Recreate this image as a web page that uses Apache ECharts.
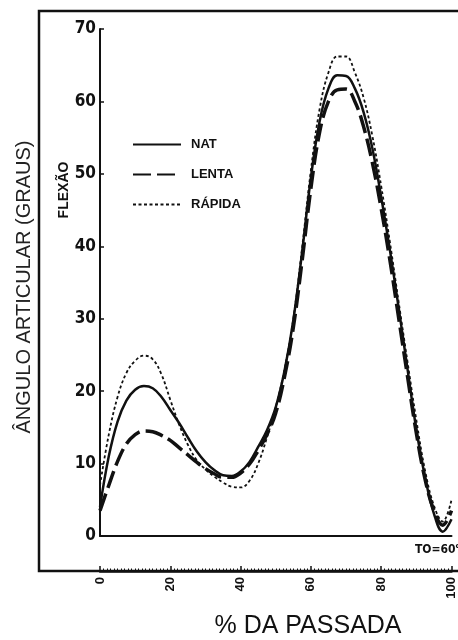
<!DOCTYPE html>
<html>
<head>
<meta charset="utf-8">
<script src="https://cdn.jsdelivr.net/npm/echarts@6/dist/echarts.min.js"></script>
<style>
html,body{margin:0;padding:0;background:#fff;}
#chart{width:458px;height:640px;}
</style>
</head>
<body>
<div id="chart"></div>
<script>
// % da passada
var pct = [0,2.5,5,7.5,10,12.5,15,17.5,20,22.5,25,27.5,30,32.5,35,37.5,40,42.5,45,47.5,50,52.5,55,57.5,60,62.5,65,67.5,70,72.5,75,77.5,80,82.5,85,87.5,90,92.5,95,97.5,100];
var nat = [4.0,11.0,15.8,18.7,20.2,20.7,20.4,19.2,17.4,15.6,13.6,11.7,10.2,9.1,8.4,8.3,8.9,10.2,12.3,14.6,17.8,22.8,29.8,39.2,49.5,57.3,61.8,63.6,63.5,61.8,58.5,53.5,46.8,39.4,31.4,23.0,14.7,8.1,3.1,0.6,2.3];
var lenta = [3.5,7.0,10.3,12.7,14.0,14.5,14.4,13.9,13.2,12.2,11.2,10.2,9.3,8.6,8.1,8.1,8.7,9.9,11.8,14.0,17.0,22.0,28.8,38.0,48.0,55.8,60.0,61.6,61.7,60.0,56.5,51.5,45.2,38.0,30.0,22.0,14.2,7.8,3.5,1.5,3.5];
var rapida = [7.0,14.0,19.2,22.5,24.2,24.9,24.4,22.3,18.8,15.4,12.6,10.5,9.2,8.2,7.4,6.8,6.7,7.6,10.0,13.6,17.8,23.0,30.0,39.8,50.5,59.0,64.0,66.2,66.2,64.0,60.5,55.2,48.3,40.5,32.2,24.0,16.0,9.0,4.2,2.0,5.0];
var seriesNames = ['NAT','LENTA','RÁPIDA'];
var xTicks = [0,20,40,60,80,100];

function pairs(v){ return pct.map(function(p,i){ return [p, v[i]]; }); }

var ink = '#111';
var condensed = '"DejaVu Sans Condensed", "Liberation Sans", sans-serif';
var chart = echarts.init(document.getElementById('chart'), null, {renderer:'canvas'});
chart.setOption({
  backgroundColor: '#fff',
  animation: false,
  grid: {left: 100, right: 3, top: 29, bottom: 104},
  legend: {
    orient: 'vertical', left: 127, top: 133,
    itemWidth: 48, itemHeight: 14, itemGap: 17,
    data: seriesNames,
    itemStyle: {opacity: 0},
    textStyle: {fontFamily: 'Liberation Sans', fontWeight: 'bold', fontSize: 13, color: ink, padding: [0,0,0,5]}
  },
  xAxis: [{
    type: 'value', min: 0, max: 100, interval: 20,
    axisLine: {show: true, lineStyle: {color: ink, width: 2}},
    axisTick: {show: false}, axisLabel: {show: false}, splitLine: {show: false}
  },{
    type: 'value', min: 0, max: 100, interval: 20, position: 'bottom', offset: 35,
    axisLine: {show: true, lineStyle: {color: ink, width: 2.5}},
    axisTick: {show: true, inside: true, length: 5, lineStyle: {color: ink, width: 1.5}},
    minorTick: {show: true, splitNumber: 20, length: 2.5, lineStyle: {color: ink, width: 1}},
    axisLabel: {show: true, rotate: 90, margin: 6, fontFamily: 'Liberation Sans', fontWeight: 'bold', fontSize: 13, color: ink,
      customValues: xTicks},
    splitLine: {show: false}
  }],
  yAxis: {
    type: 'value', min: 0, max: 70, interval: 10,
    axisLine: {show: true, lineStyle: {color: ink, width: 2}},
    axisTick: {show: true, inside: true, length: 4, lineStyle: {color: ink, width: 1.5}},
    axisLabel: {margin: 4, fontFamily: condensed, fontWeight: 'bold', fontSize: 17, color: ink},
    splitLine: {show: false}
  },
  series: [{
    name: seriesNames[0], type: 'line', xAxisIndex: 0, data: pairs(nat), smooth: 0.4, symbol: 'none',
    lineStyle: {color: ink, width: 2.5, type: 'solid'}, itemStyle: {color: ink}
  },{
    name: seriesNames[1], type: 'line', xAxisIndex: 0, data: pairs(lenta), smooth: 0.4, symbol: 'none',
    lineStyle: {color: ink, width: 3.5, type: [18,6]}, itemStyle: {color: ink}
  },{
    name: seriesNames[2], type: 'line', xAxisIndex: 0, data: pairs(rapida), smooth: 0.4, symbol: 'none',
    lineStyle: {color: ink, width: 1.8, type: [3,2.5]}, itemStyle: {color: ink}
  }],
  graphic: [
    {type: 'polyline', silent: true, shape: {points: [[458,11],[39,11],[39,571],[458,571]]},
     style: {stroke: ink, lineWidth: 2.5, fill: null}},
    {type: 'text', x: 24, y: 287, rotation: Math.PI/2,
     style: {text: 'ÂNGULO ARTICULAR (GRAUS)', x: 0, y: 0, textAlign: 'center', textVerticalAlign: 'middle',
       font: '20px "Liberation Sans"', fill: '#222'}},
    {type: 'text', x: 64, y: 190, rotation: Math.PI/2,
     style: {text: 'FLEXÃO', x: 0, y: 0, textAlign: 'center', textVerticalAlign: 'middle',
       font: 'bold 14px "Liberation Sans"', fill: ink}},
    {type: 'text', x: 308, y: 626,
     style: {text: '% DA PASSADA', x: 0, y: 0, textAlign: 'center', textVerticalAlign: 'middle',
       font: '25px "Liberation Sans"', fill: ink}},
    {type: 'text', x: 415, y: 550,
     style: {text: 'TO=60%', x: 0, y: 0, textAlign: 'left', textVerticalAlign: 'middle',
       font: 'bold 12px ' + condensed, fill: ink}}
  ]
});
</script>
</body>
</html>
